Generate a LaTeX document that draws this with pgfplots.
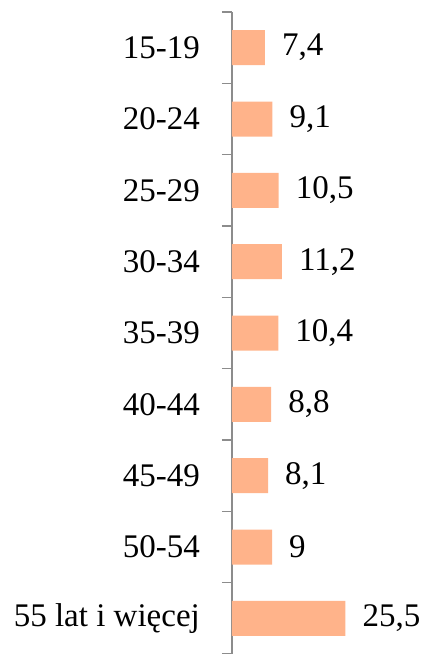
\documentclass[border=0pt]{standalone}
\usepackage{fontspec}
\setmainfont{Liberation Serif}
\usepackage{pgfplots}
\pgfplotsset{compat=1.18}
\definecolor{barc}{RGB}{255,179,138}
\definecolor{axc}{RGB}{140,140,140}
\begin{document}
\begin{tikzpicture}
\begin{axis}[
  at={(232pt,0pt)}, anchor=south west,
  scale only axis, width=178pt, height=642pt,
  xmin=0, xmax=40,
  ymin=-0.5, ymax=8.5, y dir=reverse,
  axis x line=none, axis y line*=left,
  y axis line style={draw=axc, line width=1.2pt},
  ytick={0,...,8},
  yticklabels={15-19,20-24,25-29,30-34,35-39,40-44,45-49,50-54,55 lat i więcej},
  major tick length=0pt,
  extra y ticks={-0.5,0.5,...,8.5},
  extra y tick labels={},
  extra y tick style={major tick length=10pt, tick align=outside, tick style={draw=axc, line width=1.2pt}},
  y tick label style={font=\fontsize{33}{40}\selectfont, anchor=east, inner sep=0pt, xshift=-32pt},
  xbar, bar width=35pt,
  nodes near coords, point meta=explicit symbolic,
  every node near coord/.append style={font=\fontsize{33}{40}\selectfont, anchor=west, inner sep=0pt, xshift=17pt},
]
\addplot[fill=barc, draw=none] coordinates {
(7.4,0) [{7,4}]
(9.1,1) [{9,1}]
(10.5,2) [{10,5}]
(11.2,3) [{11,2}]
(10.4,4) [{10,4}]
(8.8,5) [{8,8}]
(8.1,6) [{8,1}]
(9,7) [9]
(25.5,8) [{25,5}]
};
\end{axis}
\pgfresetboundingbox
\path (0,0) rectangle (427pt,654pt);
\end{tikzpicture}
\end{document}
